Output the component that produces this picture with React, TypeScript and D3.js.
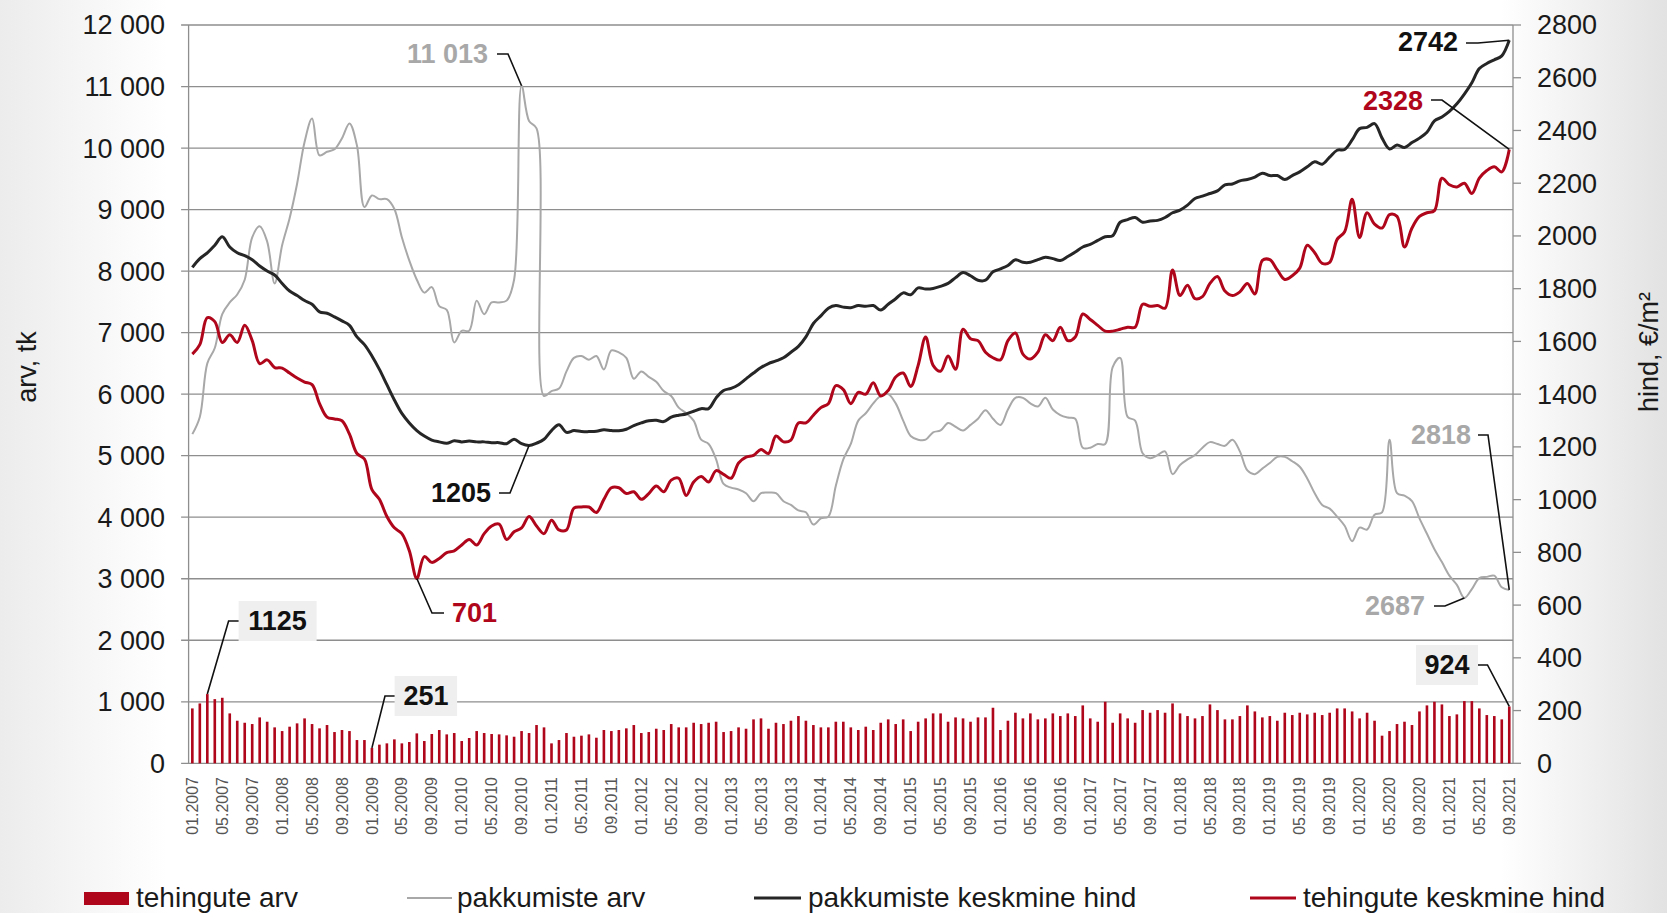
import React, { useEffect, useRef } from 'react';
import * as d3 from 'd3';

// months 01.2007 ... 09.2021
const months: string[] = [];
for (let y = 2007; y <= 2021; y++) {
  for (let m = 1; m <= 12; m++) {
    if (y === 2021 && m > 9) break;
    months.push(`${String(m).padStart(2, '0')}.${y}`);
  }
}

// tehingute arv (bars, left axis)
const dealsCount = [
  892, 973, 1125, 1043, 1065, 811, 692, 659, 638, 746, 676, 584,
  524, 595, 649, 730, 638, 568, 622, 508, 541, 524, 378, 378,
  251, 303, 324, 389, 324, 346, 486, 362, 476, 541, 470, 492,
  362, 411, 524, 492, 476, 470, 454, 432, 524, 492, 622, 584,
  324, 378, 492, 432, 449, 470, 416, 541, 524, 541, 568, 622,
  492, 508, 562, 541, 638, 584, 584, 659, 638, 659, 676, 508,
  524, 584, 562, 714, 730, 562, 659, 638, 692, 768, 692, 622,
  584, 584, 676, 676, 584, 541, 595, 541, 659, 714, 638, 714,
  524, 676, 730, 811, 811, 676, 746, 730, 676, 746, 746, 903,
  541, 692, 822, 730, 811, 714, 730, 811, 768, 811, 768, 941,
  730, 676, 1000, 659, 811, 730, 659, 865, 822, 865, 822, 973,
  811, 768, 730, 768, 957, 865, 714, 714, 768, 941, 843, 746,
  768, 692, 822, 784, 822, 795, 822, 784, 822, 892, 892, 843,
  730, 822, 692, 449, 524, 638, 676, 622, 843, 941, 1000, 957,
  768, 795, 1011, 1011, 892, 784, 768, 714, 924,
];

// pakkumiste arv (grey line, left axis)
const offersCount = [
  5350, 5630, 6500, 6750, 7300, 7490, 7620, 7860, 8550, 8730, 8480, 7800,
  8420, 8860, 9420, 10100, 10480, 9880, 9940, 9980, 10160, 10400, 10040, 9040,
  9230, 9170, 9170, 9010, 8550, 8170, 7860, 7650, 7740, 7430, 7370, 6840,
  7030, 7030, 7520, 7300, 7490, 7490, 7520, 7860, 11013, 10440, 10320, 5970,
  6050, 6090, 6370, 6590, 6620, 6560, 6620, 6400, 6710, 6680, 6590, 6250,
  6370, 6280, 6200, 6050, 5970, 5780, 5690, 5570, 5260, 5190, 4940, 4540,
  4480, 4450, 4390, 4260, 4390, 4400, 4390, 4260, 4200, 4110, 4080, 3880,
  3980, 4010, 4510, 4940, 5190, 5570, 5690, 5850, 5970, 6000, 5850, 5570,
  5320, 5260, 5260, 5380, 5410, 5530, 5470, 5410, 5500, 5600, 5740, 5600,
  5500, 5750, 5940, 5940, 5850, 5800, 5940, 5750, 5660, 5620, 5600, 5130,
  5130, 5190, 5190, 6440, 6590, 5630, 5570, 5040, 4960, 5010, 5070, 4700,
  4850, 4940, 5010, 5130, 5220, 5190, 5160, 5260, 5070, 4760, 4700, 4790,
  4880, 4980, 4980, 4910, 4820, 4630, 4390, 4200, 4140, 4010, 3860, 3610,
  3830, 3800, 4040, 4080, 5260, 4390, 4350, 4260, 3980, 3730, 3480, 3270,
  3050, 2900, 2687, 2830, 3010, 3030, 3050, 2860, 2818,
];

// pakkumiste keskmine hind (black line, right axis)
const offerPrice = [
  1881, 1914, 1936, 1965, 1997, 1958, 1936, 1925, 1910, 1886, 1867, 1852,
  1820, 1791, 1774, 1755, 1741, 1712, 1707, 1693, 1678, 1661, 1617, 1588,
  1545, 1494, 1436, 1378, 1327, 1291, 1262, 1241, 1226, 1219, 1214, 1223,
  1219, 1222, 1219, 1219, 1216, 1216, 1212, 1229, 1212, 1205, 1214, 1229,
  1262, 1284, 1255, 1262, 1258, 1258, 1259, 1265, 1262, 1261, 1267, 1281,
  1291, 1299, 1301, 1296, 1313, 1320, 1325, 1335, 1345, 1345, 1386, 1414,
  1422, 1436, 1458, 1480, 1501, 1516, 1526, 1538, 1559, 1581, 1617, 1668,
  1697, 1726, 1736, 1730, 1728, 1736, 1733, 1736, 1719, 1741, 1762, 1784,
  1777, 1803, 1799, 1801, 1809, 1820, 1842, 1861, 1849, 1832, 1832, 1864,
  1875, 1888, 1910, 1900, 1900, 1910, 1919, 1914, 1907, 1922, 1939, 1958,
  1968, 1983, 1997, 2001, 2052, 2062, 2070, 2052, 2057, 2059, 2070, 2088,
  2098, 2117, 2142, 2151, 2161, 2171, 2194, 2197, 2209, 2214, 2223, 2238,
  2229, 2229, 2214, 2229, 2243, 2262, 2281, 2272, 2299, 2325, 2328, 2364,
  2407, 2412, 2426, 2371, 2330, 2345, 2335, 2354, 2371, 2393, 2436, 2451,
  2472, 2501, 2538, 2581, 2635, 2654, 2668, 2683, 2742,
];

// tehingute keskmine hind (red line, right axis)
const dealPrice = [
  1552, 1588, 1690, 1675, 1596, 1625, 1596, 1661, 1603, 1516, 1530, 1501,
  1499, 1480, 1461, 1446, 1436, 1364, 1313, 1306, 1299, 1248, 1175, 1154,
  1038, 1001, 936, 893, 871, 806, 701, 784, 762, 777, 799, 806,
  828, 849, 828, 871, 900, 907, 849, 878, 893, 936, 900, 871,
  922, 885, 885, 968, 972, 972, 951, 1001, 1045, 1045, 1023, 1030,
  1001, 1023, 1052, 1030, 1074, 1081, 1016, 1067, 1088, 1067, 1110, 1096,
  1081, 1139, 1161, 1168, 1190, 1175, 1241, 1219, 1226, 1291, 1291, 1320,
  1349, 1364, 1432, 1417, 1364, 1407, 1400, 1443, 1393, 1414, 1465, 1480,
  1429, 1509, 1617, 1509, 1487, 1545, 1494, 1646, 1610, 1603, 1559, 1538,
  1530, 1603, 1632, 1552, 1533, 1559, 1625, 1603, 1654, 1603, 1617, 1704,
  1683, 1661, 1639, 1639, 1646, 1654, 1654, 1741, 1733, 1736, 1726, 1871,
  1774, 1813, 1762, 1770, 1820, 1846, 1791, 1774, 1788, 1820, 1780, 1907,
  1910, 1871, 1835, 1849, 1878, 1965, 1936, 1896, 1900, 1987, 2016, 2139,
  1994, 2088, 2045, 2030, 2081, 2074, 1958, 2030, 2074, 2088, 2096, 2219,
  2194, 2186, 2200, 2161, 2219, 2248, 2262, 2243, 2328,
];

const leftTicks = d3.range(0, 12001, 1000);
const rightTicks = d3.range(0, 2801, 200);
const legendLabels = ['tehingute arv', 'pakkumiste arv', 'pakkumiste keskmine hind', 'tehingute keskmine hind'];

const RED = '#b0061b';
const GREY = '#a8a8a8';
const BLACK = '#262626';
const GRID = '#8e8e8e';
const FONT = '"Liberation Sans", Arial, sans-serif';

const W = 1667;
const H = 913;

const App: React.FC = () => {
  const svgRef = useRef<SVGSVGElement>(null);

  useEffect(() => {
    if (!svgRef.current) return;
    const svg = d3.select(svgRef.current);
    svg.selectAll('*').remove();

    const left = 188.6, right = 1513, top = 25, bottom = 763.3;

    const x = d3.scaleBand<string>().domain(months).range([left, right])
      .paddingInner(0.65).paddingOuter(0.325);
    const cx = (i: number) => (x(months[i]) as number) + x.bandwidth() / 2;
    const yL = d3.scaleLinear().domain([0, 12000]).range([bottom, top]);
    const yR = d3.scaleLinear().domain([0, 2800]).range([bottom, top]);

    // background
    const defs = svg.append('defs');
    const grad = defs.append('linearGradient').attr('id', 'bg').attr('x1', 0).attr('x2', 1).attr('y1', 0).attr('y2', 0);
    grad.append('stop').attr('offset', '0%').attr('stop-color', '#ececec');
    grad.append('stop').attr('offset', '10%').attr('stop-color', '#ffffff');
    grad.append('stop').attr('offset', '90%').attr('stop-color', '#ffffff');
    grad.append('stop').attr('offset', '100%').attr('stop-color', '#e2e2e2');
    svg.append('rect').attr('width', W).attr('height', H).attr('fill', 'url(#bg)');

    // grid + left ticks
    svg.append('g').selectAll('line').data(leftTicks).join('line')
      .attr('x1', left - 7.5).attr('x2', right)
      .attr('y1', d => yL(d)).attr('y2', d => yL(d))
      .attr('stroke', GRID).attr('stroke-width', 1.3);

    svg.append('line').attr('x1', left).attr('x2', left).attr('y1', top).attr('y2', bottom)
      .attr('stroke', GRID).attr('stroke-width', 1.3);
    svg.append('line').attr('x1', right).attr('x2', right).attr('y1', top).attr('y2', bottom)
      .attr('stroke', GRID).attr('stroke-width', 1.3);
    svg.append('g').selectAll('line').data(rightTicks).join('line')
      .attr('x1', right).attr('x2', right + 8)
      .attr('y1', d => yR(d)).attr('y2', d => yR(d))
      .attr('stroke', GRID).attr('stroke-width', 1.3);

    const fmt = (v: number) => (v >= 1000 ? `${Math.floor(v / 1000)} ${String(v % 1000).padStart(3, '0')}` : String(v));
    svg.append('g').selectAll('text').data(leftTicks).join('text')
      .attr('x', 165).attr('y', d => yL(d)).attr('dy', '0.35em')
      .attr('text-anchor', 'end').attr('font-family', FONT).attr('font-size', 27).attr('fill', '#1a1a1a')
      .text(d => fmt(d));
    svg.append('g').selectAll('text').data(rightTicks).join('text')
      .attr('x', 1537).attr('y', d => yR(d)).attr('dy', '0.35em')
      .attr('text-anchor', 'start').attr('font-family', FONT).attr('font-size', 27).attr('fill', '#1a1a1a')
      .text(d => String(d));

    // axis titles
    svg.append('text').attr('transform', 'translate(27,367) rotate(-90)').attr('dy', '0.35em')
      .attr('text-anchor', 'middle').attr('font-family', FONT).attr('font-size', 27).attr('fill', '#1a1a1a')
      .text('arv, tk');
    svg.append('text').attr('transform', 'translate(1649,352) rotate(-90)').attr('dy', '0.35em')
      .attr('text-anchor', 'middle').attr('font-family', FONT).attr('font-size', 27).attr('fill', '#1a1a1a')
      .text('hind, €/m²');

    // x labels
    svg.append('g').selectAll('text').data(months.filter((_, i) => i % 4 === 0)).join('text')
      .attr('transform', d => `translate(${(x(d) as number) + x.bandwidth() / 2},777) rotate(-90)`)
      .attr('dy', '0.35em').attr('text-anchor', 'end')
      .attr('font-family', FONT).attr('font-size', 16).attr('fill', '#555555')
      .text(d => d);

    // bars
    svg.append('g').selectAll('rect').data(dealsCount).join('rect')
      .attr('x', (_, i) => x(months[i]) as number).attr('width', x.bandwidth())
      .attr('y', d => yL(d)).attr('height', d => bottom - yL(d))
      .attr('fill', RED);

    const lineL = d3.line<number>().x((_, i) => cx(i)).y(d => yL(d)).curve(d3.curveCatmullRom.alpha(0.5));
    const lineR = d3.line<number>().x((_, i) => cx(i)).y(d => yR(d)).curve(d3.curveCatmullRom.alpha(0.5));

    svg.append('path').datum(offersCount).attr('d', lineL).attr('fill', 'none')
      .attr('stroke', GREY).attr('stroke-width', 2);
    svg.append('path').datum(offerPrice).attr('d', lineR).attr('fill', 'none')
      .attr('stroke', BLACK).attr('stroke-width', 3).attr('stroke-linejoin', 'round');
    svg.append('path').datum(dealPrice).attr('d', lineR).attr('fill', 'none')
      .attr('stroke', RED).attr('stroke-width', 3).attr('stroke-linejoin', 'round');

    // annotations
    const last = months.length - 1;
    type Ann = {
      text: string; color: string; px: number; py: number;
      tx: number; ty: number; anchor: string; elbow: [number, number][];
      box?: [number, number, number, number];
    };
    const anns: Ann[] = [
      { text: '11 013', color: GREY, px: cx(44), py: yL(offersCount[44]), tx: 488, ty: 54, anchor: 'end', elbow: [[497, 54], [508, 54]] },
      { text: '1205', color: '#111', px: cx(45), py: yR(offerPrice[45]), tx: 491, ty: 493, anchor: 'end', elbow: [[499, 493], [510, 493]] },
      { text: '701', color: RED, px: cx(30), py: yR(dealPrice[30]), tx: 452, ty: 613, anchor: 'start', elbow: [[444, 613], [432, 613]] },
      { text: '1125', color: '#111', px: cx(2), py: yL(dealsCount[2]), tx: 277.5, ty: 621, anchor: 'middle', elbow: [[238.6, 621], [228.6, 621]], box: [238.6, 601, 78, 40] },
      { text: '251', color: '#111', px: cx(24), py: yL(dealsCount[24]), tx: 426, ty: 696, anchor: 'middle', elbow: [[394.6, 696], [385, 696]], box: [394.6, 676, 62.5, 40] },
      { text: '924', color: '#111', px: cx(last), py: yL(dealsCount[last]), tx: 1447, ty: 665, anchor: 'middle', elbow: [[1478, 665], [1487.5, 665]], box: [1416, 645, 62, 40] },
      { text: '2818', color: GREY, px: cx(last), py: yL(offersCount[last]), tx: 1471, ty: 435, anchor: 'end', elbow: [[1478, 435], [1488, 435]] },
      { text: '2687', color: GREY, px: cx(170), py: yL(offersCount[170]), tx: 1425, ty: 606, anchor: 'end', elbow: [[1434, 606], [1445, 606]] },
      { text: '2742', color: '#111', px: cx(last), py: yR(offerPrice[last]), tx: 1458, ty: 42, anchor: 'end', elbow: [[1466, 43], [1478, 43]] },
      { text: '2328', color: RED, px: cx(last), py: yR(dealPrice[last]), tx: 1423, ty: 101, anchor: 'end', elbow: [[1431, 100], [1442, 100]] },
    ];

    const g = svg.append('g');
    anns.forEach(a => {
      if (a.box) {
        g.append('rect').attr('x', a.box[0]).attr('y', a.box[1]).attr('width', a.box[2]).attr('height', a.box[3])
          .attr('fill', '#efefef');
      }
      g.append('path').attr('d', d3.line()([...a.elbow, [a.px, a.py]]))
        .attr('fill', 'none').attr('stroke', '#111').attr('stroke-width', 1.6);
      g.append('text').attr('x', a.tx).attr('y', a.ty).attr('dy', '0.35em')
        .attr('text-anchor', a.anchor).attr('font-family', FONT).attr('font-weight', 'bold')
        .attr('font-size', 27).attr('fill', a.color).text(a.text);
    });

    // legend
    const lg = svg.append('g').attr('font-family', FONT).attr('font-size', 28).attr('fill', '#1a1a1a');
    lg.append('rect').attr('x', 84).attr('y', 892).attr('width', 45).attr('height', 13).attr('fill', RED);
    lg.append('line').attr('x1', 407).attr('x2', 452).attr('y1', 898).attr('y2', 898).attr('stroke', GREY).attr('stroke-width', 2);
    lg.append('line').attr('x1', 754).attr('x2', 801).attr('y1', 898).attr('y2', 898).attr('stroke', BLACK).attr('stroke-width', 3);
    lg.append('line').attr('x1', 1250).attr('x2', 1296).attr('y1', 898).attr('y2', 898).attr('stroke', RED).attr('stroke-width', 3);
    const lx = [136, 457, 808, 1303];
    legendLabels.forEach((t, i) => {
      lg.append('text').attr('x', lx[i]).attr('y', 907).text(t);
    });
  }, []);

  return (
    <div style={{ position: 'absolute', left: 0, top: 0 }}>
      <svg ref={svgRef} width={W} height={H} style={{ display: 'block' }}></svg>
    </div>
  );
};

export default App;
